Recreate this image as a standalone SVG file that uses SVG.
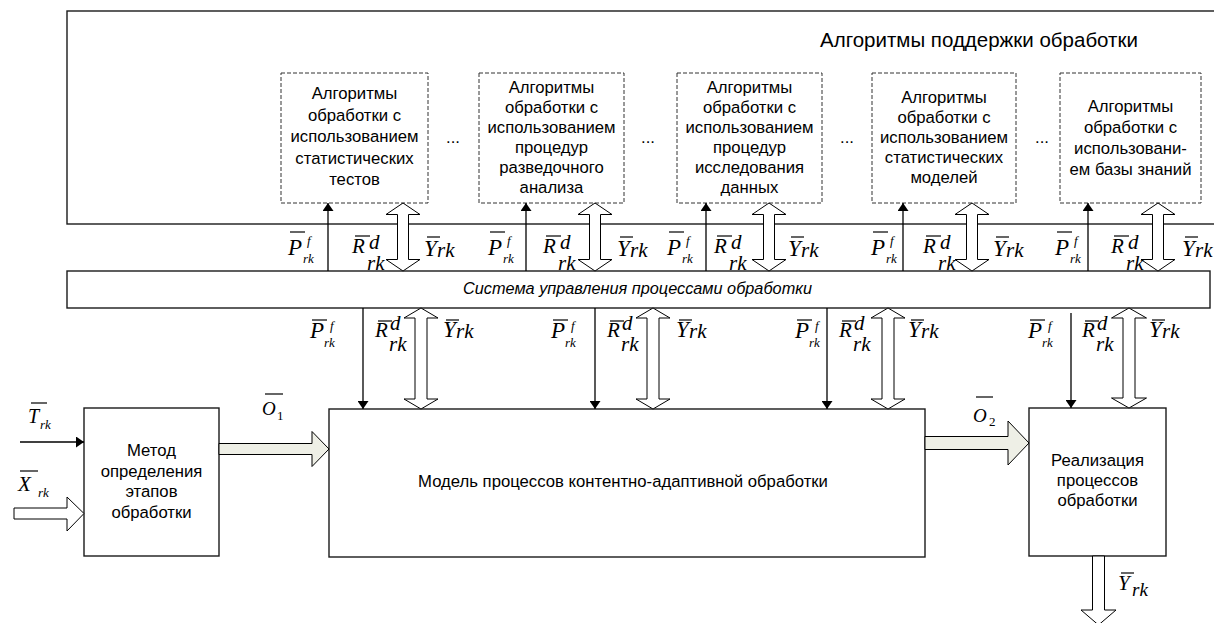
<svg xmlns="http://www.w3.org/2000/svg" width="1214" height="623" viewBox="0 0 1214 623">
<defs>
<style>
.box{fill:#fff;stroke:#1a1a1a;stroke-width:1.4}
.dbox{fill:#fff;stroke:#333;stroke-width:1;stroke-dasharray:4 2}
.t{font-family:"Liberation Sans",Arial,sans-serif;font-size:16.7px;fill:#000;text-anchor:middle}
.ti{font-family:"Liberation Sans",Arial,sans-serif;font-size:16.3px;font-style:italic;fill:#000}
.tt{font-family:"Liberation Sans",Arial,sans-serif;font-size:20.5px;fill:#000}
.m{font-family:"Liberation Serif","Times New Roman",Times,serif;font-style:italic;fill:#000}
.mn{font-family:"Liberation Serif","Times New Roman",Times,serif;fill:#000}
.b{font-size:23px}
.s{font-size:13px}
.r{font-size:21px}
.ov{stroke:#000;stroke-width:1.2}
.thin{stroke:#000;stroke-width:1.3;fill:none;marker-end:url(#ah)}
.hol{fill:#fff;stroke:#000;stroke-width:1}
.hol2{fill:#eeefe6;stroke:#000;stroke-width:1}
</style>
<marker id="ah" markerUnits="userSpaceOnUse" markerWidth="8" markerHeight="11" refX="8" refY="5.5" orient="auto"><path d="M0,0 L8,5.5 L0,11 Z" fill="#000"/></marker>
</defs>
<rect width="1214" height="623" fill="#fff"/>

<g id="support">
<rect class="box" x="67" y="11" width="1160" height="213"/>
<text class="tt" x="820" y="47">Алгоритмы поддержки обработки</text>
</g>

<g id="alg1">
<rect class="dbox" x="281" y="73" width="147" height="130"/>
<text class="t"><tspan x="354.5" y="99">Алгоритмы</tspan><tspan x="354.5" y="120.5">обработки с</tspan><tspan x="354.5" y="142">использованием</tspan><tspan x="354.5" y="163.5">статистических</tspan><tspan x="354.5" y="185">тестов</tspan></text>
</g>
<g id="alg2">
<rect class="dbox" x="479" y="73" width="145" height="130"/>
<text class="t"><tspan x="551.5" y="93">Алгоритмы</tspan><tspan x="551.5" y="113">обработки с</tspan><tspan x="551.5" y="133">использованием</tspan><tspan x="551.5" y="153">процедур</tspan><tspan x="551.5" y="173">разведочного</tspan><tspan x="551.5" y="193">анализа</tspan></text>
</g>
<g id="alg3">
<rect class="dbox" x="677" y="73" width="145" height="130"/>
<text class="t"><tspan x="749.5" y="93">Алгоритмы</tspan><tspan x="749.5" y="113">обработки с</tspan><tspan x="749.5" y="133">использованием</tspan><tspan x="749.5" y="153">процедур</tspan><tspan x="749.5" y="173">исследования</tspan><tspan x="749.5" y="193">данных</tspan></text>
</g>
<g id="alg4">
<rect class="dbox" x="872" y="73" width="144" height="130"/>
<text class="t"><tspan x="944" y="103">Алгоритмы</tspan><tspan x="944" y="123">обработки с</tspan><tspan x="944" y="143">использованием</tspan><tspan x="944" y="163">статистических</tspan><tspan x="944" y="183">моделей</tspan></text>
</g>
<g id="alg5">
<rect class="dbox" x="1060" y="73" width="141" height="130"/>
<text class="t"><tspan x="1130.5" y="112">Алгоритмы</tspan><tspan x="1130.5" y="133">обработки с</tspan><tspan x="1130.5" y="154">использовани-</tspan><tspan x="1130.5" y="175">ем базы знаний</tspan></text>
</g>
<g id="dots">
<text class="t" x="453" y="143">...</text>
<text class="t" x="648" y="143">...</text>
<text class="t" x="847" y="143">...</text>
<text class="t" x="1042" y="143">...</text>
</g>

<g id="control">
<rect class="box" x="67" y="271" width="1143" height="37"/>
<text class="ti" x="463" y="294">Система управления процессами обработки</text>
</g>

<g id="method">
<rect class="box" x="84" y="408" width="135" height="148"/>
<text class="t"><tspan x="151.5" y="456">Метод</tspan><tspan x="151.5" y="476.5">определения</tspan><tspan x="151.5" y="497">этапов</tspan><tspan x="151.5" y="517.5">обработки</tspan></text>
</g>
<g id="model">
<rect class="box" x="329" y="409" width="596" height="148"/>
<text class="t" x="623" y="487">Модель процессов контентно-адаптивной обработки</text>
</g>
<g id="realization">
<rect class="box" x="1029" y="408" width="137" height="148"/>
<text class="t"><tspan x="1097.5" y="466">Реализация</tspan><tspan x="1097.5" y="486">процессов</tspan><tspan x="1097.5" y="506">обработки</tspan></text>
</g>

<g id="connectors">
<line class="thin" x1="328" y1="271" x2="328" y2="203"/>
<line class="thin" x1="526" y1="271" x2="526" y2="203"/>
<line class="thin" x1="706" y1="271" x2="706" y2="203"/>
<line class="thin" x1="903" y1="271" x2="903" y2="203"/>
<line class="thin" x1="1088" y1="271" x2="1088" y2="203"/>
<path class="hol" d="M403,203 L420,214.5 L408.5,214.5 L408.5,259.5 L420,259.5 L403,271 L386,259.5 L397.5,259.5 L397.5,214.5 L386,214.5 Z"/>
<path class="hol" d="M595,203 L612,214.5 L600.5,214.5 L600.5,259.5 L612,259.5 L595,271 L578,259.5 L589.5,259.5 L589.5,214.5 L578,214.5 Z"/>
<path class="hol" d="M769,203 L786,214.5 L774.5,214.5 L774.5,259.5 L786,259.5 L769,271 L752,259.5 L763.5,259.5 L763.5,214.5 L752,214.5 Z"/>
<path class="hol" d="M972,203 L989,214.5 L977.5,214.5 L977.5,259.5 L989,259.5 L972,271 L955,259.5 L966.5,259.5 L966.5,214.5 L955,214.5 Z"/>
<path class="hol" d="M1158,203 L1175,214.5 L1163.5,214.5 L1163.5,259.5 L1175,259.5 L1158,271 L1141,259.5 L1152.5,259.5 L1152.5,214.5 L1141,214.5 Z"/>
<line class="thin" x1="363" y1="308" x2="363" y2="409"/>
<line class="thin" x1="595" y1="308" x2="595" y2="409"/>
<line class="thin" x1="827" y1="308" x2="827" y2="409"/>
<line class="thin" x1="1071" y1="313" x2="1071" y2="408"/>
<path class="hol" d="M421,308 L438,318 L427,318 L427,399 L438,399 L421,409 L404,399 L415,399 L415,318 L404,318 Z"/>
<path class="hol" d="M653,308 L670,318 L659,318 L659,399 L670,399 L653,409 L636,399 L647,399 L647,318 L636,318 Z"/>
<path class="hol" d="M888,308 L905,318 L894,318 L894,399 L905,399 L888,409 L871,399 L882,399 L882,318 L871,318 Z"/>
<path class="hol" d="M1129,308 L1146.5,318 L1135,318 L1135,398 L1146.5,398 L1129,408 L1111.5,398 L1123,398 L1123,318 L1111.5,318 Z"/>
<line class="thin" x1="20" y1="442" x2="84" y2="442"/>
<path class="hol" d="M14,508 L67,508 L67,497 L84,513.5 L67,531 L67,519 L14,519 Z"/>
<path class="hol2" d="M219,443.5 L312,443.5 L312,431.5 L329,449 L312,466.5 L312,454.5 L219,454.5 Z"/>
<path class="hol2" d="M925,436.5 L1008,436.5 L1008,421 L1029,443 L1008,465 L1008,449.5 L925,449.5 Z"/>
<path class="hol" d="M1092.5,556 L1104.5,556 L1104.5,610 L1116,610 L1098.5,625 L1081,610 L1092.5,610 Z"/>
</g>

<g id="labels">
<g><text class="m b" x="288" y="255">P</text><line class="ov" x1="290" y1="232" x2="305" y2="232"/><text class="m s" x="307" y="245">f</text><text class="m s" x="303" y="263">rk</text></g>
<g><text class="m r" x="352" y="253">R</text><line class="ov" x1="355" y1="236" x2="370" y2="236"/><text class="m r" x="369" y="249">d</text><text class="m r" x="367" y="270">rk</text></g>
<g><text class="m b" x="424" y="256">Y</text><line class="ov" x1="427" y1="237" x2="440" y2="237"/><text class="m r" x="437" y="257">rk</text></g>

<g><text class="m b" x="488" y="255">P</text><line class="ov" x1="490" y1="232" x2="505" y2="232"/><text class="m s" x="507" y="245">f</text><text class="m s" x="503" y="263">rk</text></g>
<g><text class="m r" x="543" y="253">R</text><line class="ov" x1="546" y1="236" x2="561" y2="236"/><text class="m r" x="560" y="249">d</text><text class="m r" x="558" y="270">rk</text></g>
<g><text class="m b" x="617" y="256">Y</text><line class="ov" x1="620" y1="237" x2="633" y2="237"/><text class="m r" x="630" y="257">rk</text></g>

<g><text class="m b" x="667" y="255">P</text><line class="ov" x1="669" y1="232" x2="684" y2="232"/><text class="m s" x="686" y="245">f</text><text class="m s" x="682" y="263">rk</text></g>
<g><text class="m r" x="714" y="253">R</text><line class="ov" x1="717" y1="236" x2="732" y2="236"/><text class="m r" x="731" y="249">d</text><text class="m r" x="729" y="270">rk</text></g>
<g><text class="m b" x="788" y="256">Y</text><line class="ov" x1="791" y1="237" x2="804" y2="237"/><text class="m r" x="801" y="257">rk</text></g>

<g><text class="m b" x="871" y="255">P</text><line class="ov" x1="873" y1="232" x2="888" y2="232"/><text class="m s" x="890" y="245">f</text><text class="m s" x="886" y="263">rk</text></g>
<g><text class="m r" x="923" y="253">R</text><line class="ov" x1="926" y1="236" x2="941" y2="236"/><text class="m r" x="940" y="249">d</text><text class="m r" x="938" y="270">rk</text></g>
<g><text class="m b" x="993" y="256">Y</text><line class="ov" x1="996" y1="237" x2="1009" y2="237"/><text class="m r" x="1006" y="257">rk</text></g>

<g><text class="m b" x="1055" y="255">P</text><line class="ov" x1="1057" y1="232" x2="1072" y2="232"/><text class="m s" x="1074" y="245">f</text><text class="m s" x="1070" y="263">rk</text></g>
<g><text class="m r" x="1111" y="253">R</text><line class="ov" x1="1114" y1="236" x2="1129" y2="236"/><text class="m r" x="1128" y="249">d</text><text class="m r" x="1126" y="270">rk</text></g>
<g><text class="m b" x="1182" y="256">Y</text><line class="ov" x1="1185" y1="237" x2="1198" y2="237"/><text class="m r" x="1195" y="257">rk</text></g>

<g><text class="m b" x="310" y="338">P</text><line class="ov" x1="312" y1="320" x2="327" y2="320"/><text class="m s" x="330" y="330">f</text><text class="m s" x="324" y="347">rk</text></g>
<g><text class="m r" x="375" y="337">R</text><line class="ov" x1="378" y1="321" x2="392" y2="321"/><text class="m r" x="390" y="330">d</text><text class="m r" x="389" y="351">rk</text></g>
<g><text class="m b" x="443" y="337">Y</text><line class="ov" x1="446" y1="320" x2="459" y2="320"/><text class="m r" x="456" y="338">rk</text></g>

<g><text class="m b" x="551" y="338">P</text><line class="ov" x1="553" y1="320" x2="568" y2="320"/><text class="m s" x="571" y="330">f</text><text class="m s" x="565" y="347">rk</text></g>
<g><text class="m r" x="607" y="337">R</text><line class="ov" x1="610" y1="321" x2="624" y2="321"/><text class="m r" x="622" y="330">d</text><text class="m r" x="621" y="351">rk</text></g>
<g><text class="m b" x="676" y="337">Y</text><line class="ov" x1="679" y1="320" x2="692" y2="320"/><text class="m r" x="689" y="338">rk</text></g>

<g><text class="m b" x="795" y="338">P</text><line class="ov" x1="797" y1="320" x2="812" y2="320"/><text class="m s" x="815" y="330">f</text><text class="m s" x="809" y="347">rk</text></g>
<g><text class="m r" x="839" y="337">R</text><line class="ov" x1="842" y1="321" x2="856" y2="321"/><text class="m r" x="854" y="330">d</text><text class="m r" x="853" y="351">rk</text></g>
<g><text class="m b" x="908" y="337">Y</text><line class="ov" x1="911" y1="320" x2="924" y2="320"/><text class="m r" x="921" y="338">rk</text></g>

<g><text class="m b" x="1028" y="338">P</text><line class="ov" x1="1030" y1="320" x2="1045" y2="320"/><text class="m s" x="1048" y="330">f</text><text class="m s" x="1042" y="347">rk</text></g>
<g><text class="m r" x="1082" y="337">R</text><line class="ov" x1="1085" y1="321" x2="1099" y2="321"/><text class="m r" x="1097" y="330">d</text><text class="m r" x="1096" y="351">rk</text></g>
<g><text class="m b" x="1149" y="337">Y</text><line class="ov" x1="1152" y1="320" x2="1165" y2="320"/><text class="m r" x="1162" y="338">rk</text></g>

<g><text class="m" font-size="20" x="28" y="423">T</text><line class="ov" x1="31" y1="403" x2="47" y2="403"/><text class="m s" x="40" y="429">rk</text></g>
<g><text class="m" font-size="21" x="18" y="491">X</text><line class="ov" x1="20" y1="471" x2="38" y2="471"/><text class="m s" x="38" y="497">rk</text></g>
<g><text class="m" font-size="19" x="262" y="415">O</text><line class="ov" x1="265" y1="394" x2="283" y2="394"/><text class="mn s" x="277" y="420">1</text></g>
<g><text class="m" font-size="19" x="973" y="422">O</text><line class="ov" x1="976" y1="397" x2="993" y2="397"/><text class="mn s" x="989" y="426">2</text></g>
<g><text class="m" font-size="21" x="1118" y="590">Y</text><line class="ov" x1="1121" y1="573" x2="1134" y2="573"/><text class="m" font-size="19" x="1132" y="596">rk</text></g>
</g>
</svg>
